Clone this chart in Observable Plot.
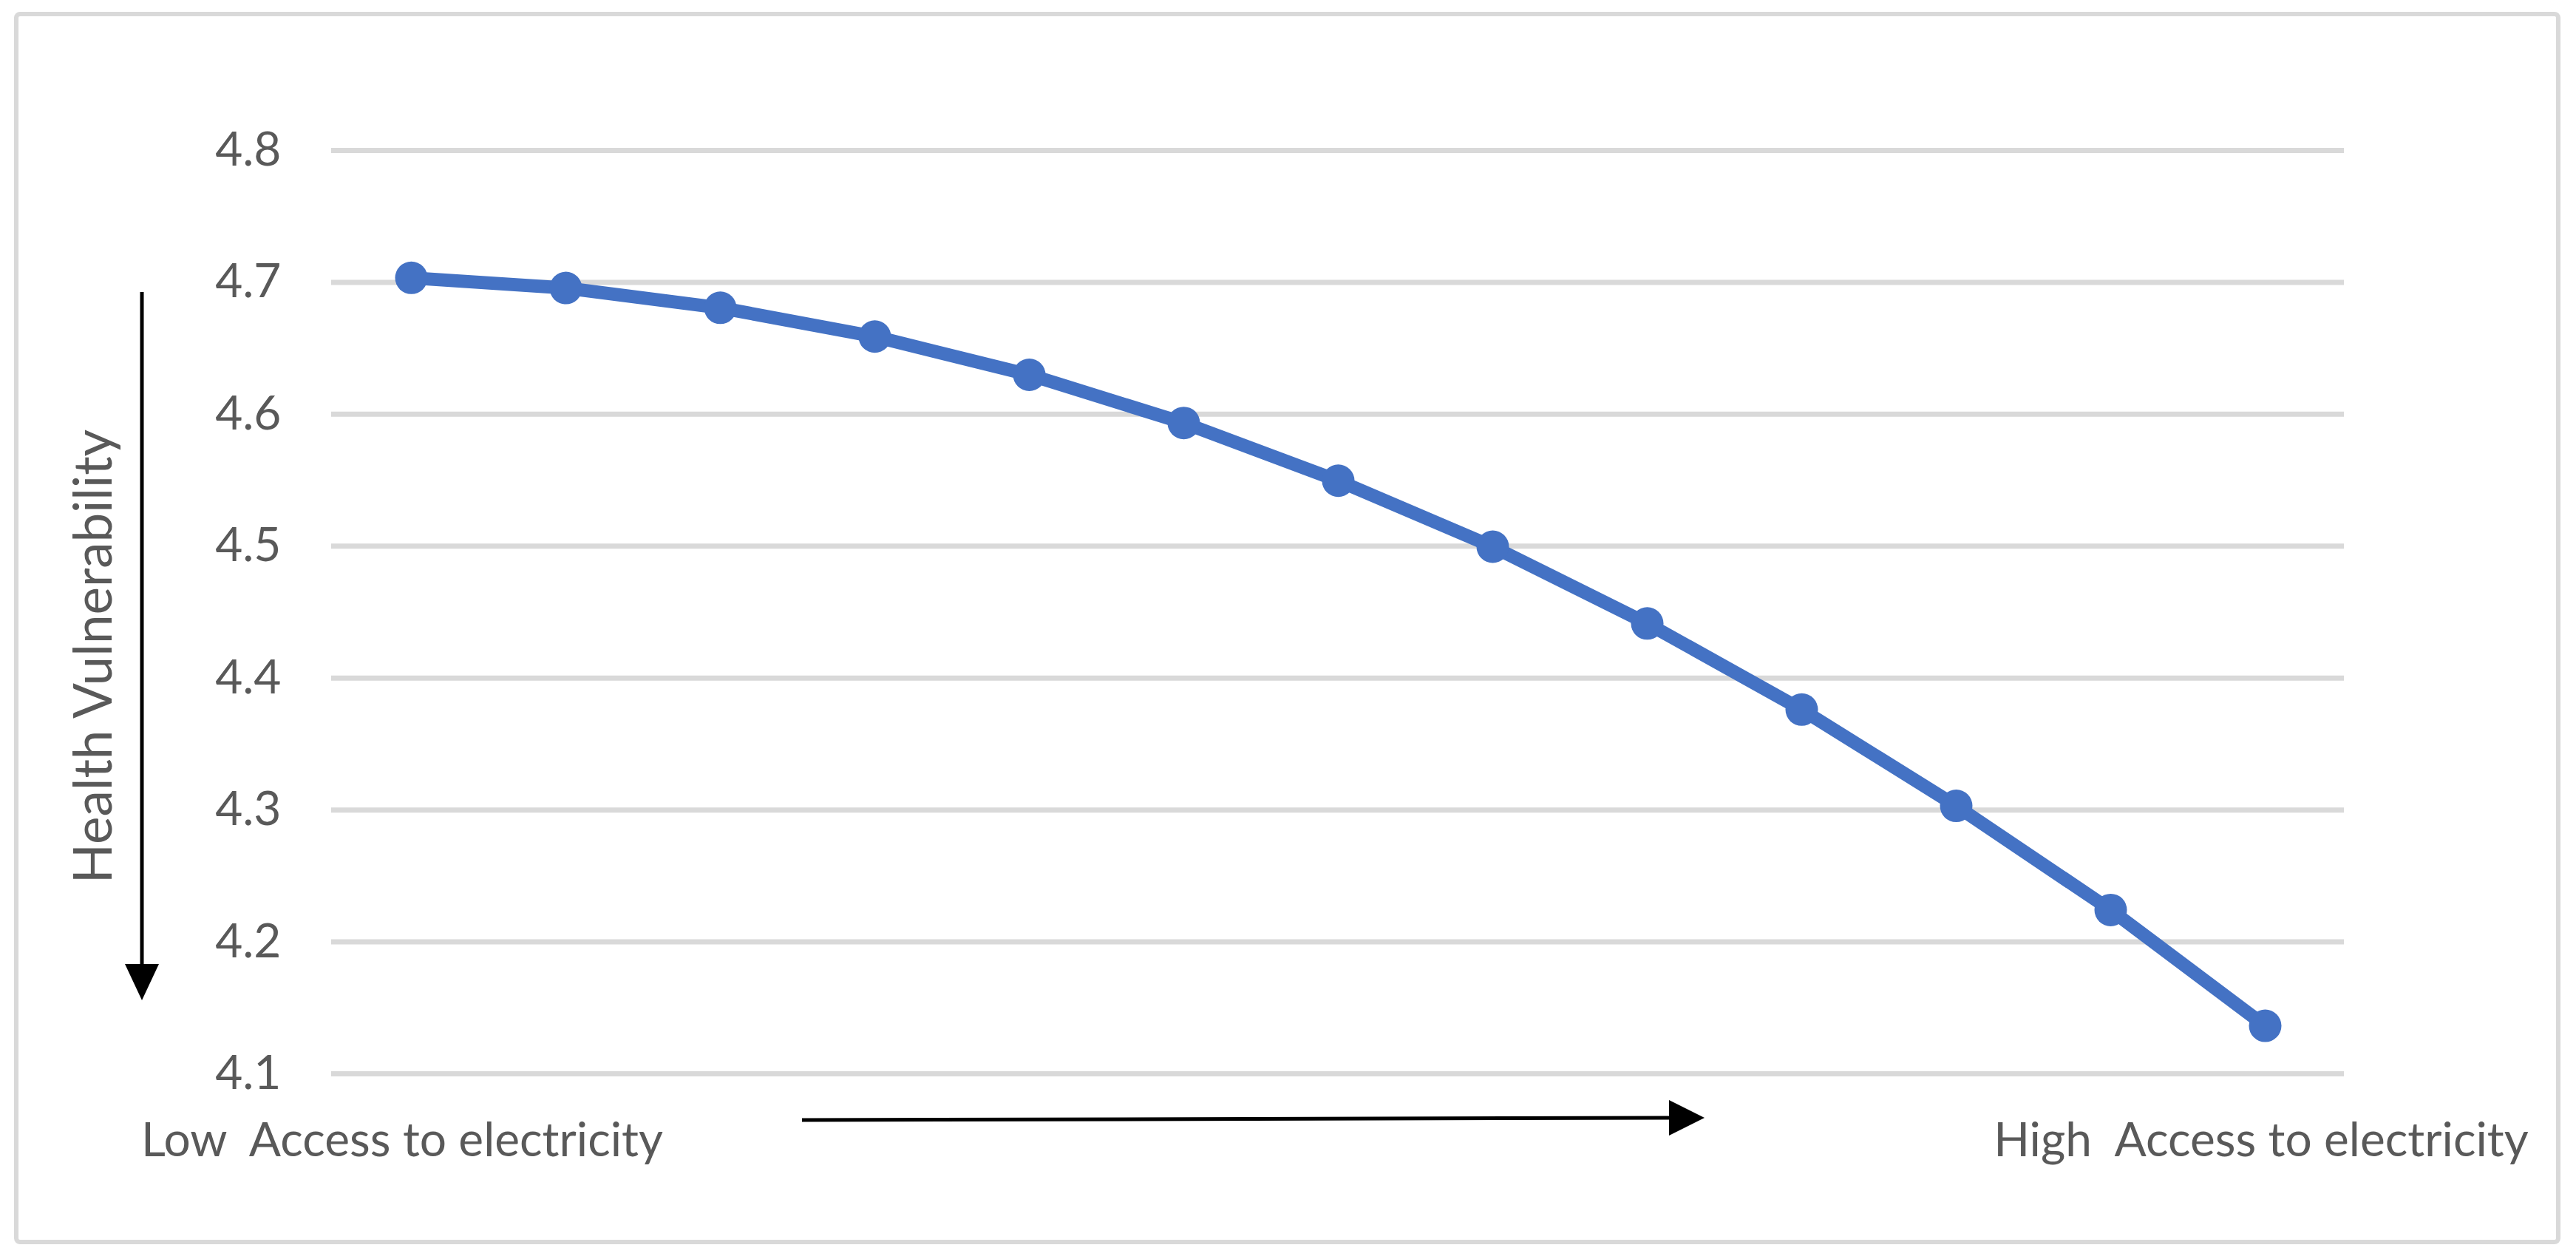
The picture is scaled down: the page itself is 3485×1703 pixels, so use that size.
<!DOCTYPE html>
<html>
<head>
<meta charset="utf-8">
<script src="https://cdn.jsdelivr.net/npm/d3@7"></script>
<script src="https://cdn.jsdelivr.net/npm/@observablehq/plot@0.6"></script>
<style>
  html, body { margin: 0; padding: 0; background: #ffffff; overflow: hidden; }
  #chart svg { display: block; }
</style>
</head>
<body>
<div id="chart"></div>
<script>
// ---- data ----
const levels = ["1","2","3","4","5","6","7","8","9","10","11","12","13"];
const vulnerability = [4.7034, 4.6957, 4.6807, 4.6589, 4.6299, 4.5934, 4.5496, 4.4996, 4.4414, 4.3761, 4.3031, 4.2242, 4.1364];
const yTicks = [4.1, 4.2, 4.3, 4.4, 4.5, 4.6, 4.7, 4.8];
const yTitle = "Health Vulnerability";
const lowLabel = "Low  Access to electricity";
const highLabel = "High  Access to electricity";

const data = levels.map((level, i) => ({level, value: vulnerability[i]}));

const W = 3485, H = 1703;
const FONT = "Lato, 'Open Sans', sans-serif";
const TEXT = "#595959";
const BLUE = "#4472c4";
const GRID = "#d9d9d9";

const chart = Plot.plot({
  width: W,
  height: H,
  marginLeft: 448,
  marginRight: 314,
  marginTop: 203,
  marginBottom: 251,
  style: {background: "#ffffff", fontFamily: FONT, overflow: "visible"},
  x: {type: "point", domain: levels, padding: 0.5, axis: null},
  y: {domain: [4.1, 4.8], axis: null},
  marks: [
    Plot.ruleY(yTicks, {stroke: GRID, strokeWidth: 7}),
    Plot.axisY(yTicks, {
      tickSize: 0, tickPadding: 68, fontSize: 64, fill: TEXT,
      tickFormat: d => d.toFixed(1), label: null
    }),
    Plot.line(data, {x: "level", y: "value", stroke: BLUE, strokeWidth: 18, strokeLinejoin: "round"}),
    Plot.dot(data, {x: "level", y: "value", r: 22, fill: BLUE, stroke: "none"})
  ]
});

document.getElementById("chart").appendChild(chart);

// ---- annotations (border, arrows, labels) ----
const svg = d3.select(chart);

svg.insert("rect", ":first-child")
  .attr("x", 22).attr("y", 19).attr("width", 3439).attr("height", 1661)
  .attr("rx", 5).attr("fill", "#ffffff")
  .attr("stroke", GRID).attr("stroke-width", 6);

// vertical arrow
svg.append("line")
  .attr("x1", 192).attr("y1", 395).attr("x2", 192).attr("y2", 1306)
  .attr("stroke", "#000").attr("stroke-width", 5);
svg.append("polygon")
  .attr("points", "169,1304 215,1304 192,1353")
  .attr("fill", "#000");

// horizontal arrow
svg.append("line")
  .attr("x1", 1085).attr("y1", 1515).attr("x2", 2262).attr("y2", 1512)
  .attr("stroke", "#000").attr("stroke-width", 5);
svg.append("polygon")
  .attr("points", "2258,1488 2258,1536 2306,1512")
  .attr("fill", "#000");

// y-axis title
svg.append("text")
  .attr("transform", "translate(151,888) rotate(-90)")
  .attr("text-anchor", "middle")
  .attr("font-family", FONT).attr("font-size", 71).attr("fill", TEXT)
  .text(yTitle);

// bottom labels
svg.append("text")
  .attr("x", 544).attr("y", 1564)
  .attr("text-anchor", "middle")
  .attr("font-family", FONT).attr("font-size", 64).attr("fill", TEXT)
  .style("white-space", "pre")
  .text(lowLabel);

svg.append("text")
  .attr("x", 3059).attr("y", 1564)
  .attr("text-anchor", "middle")
  .attr("font-family", FONT).attr("font-size", 64).attr("fill", TEXT)
  .style("white-space", "pre")
  .text(highLabel);
</script>
</body>
</html>
